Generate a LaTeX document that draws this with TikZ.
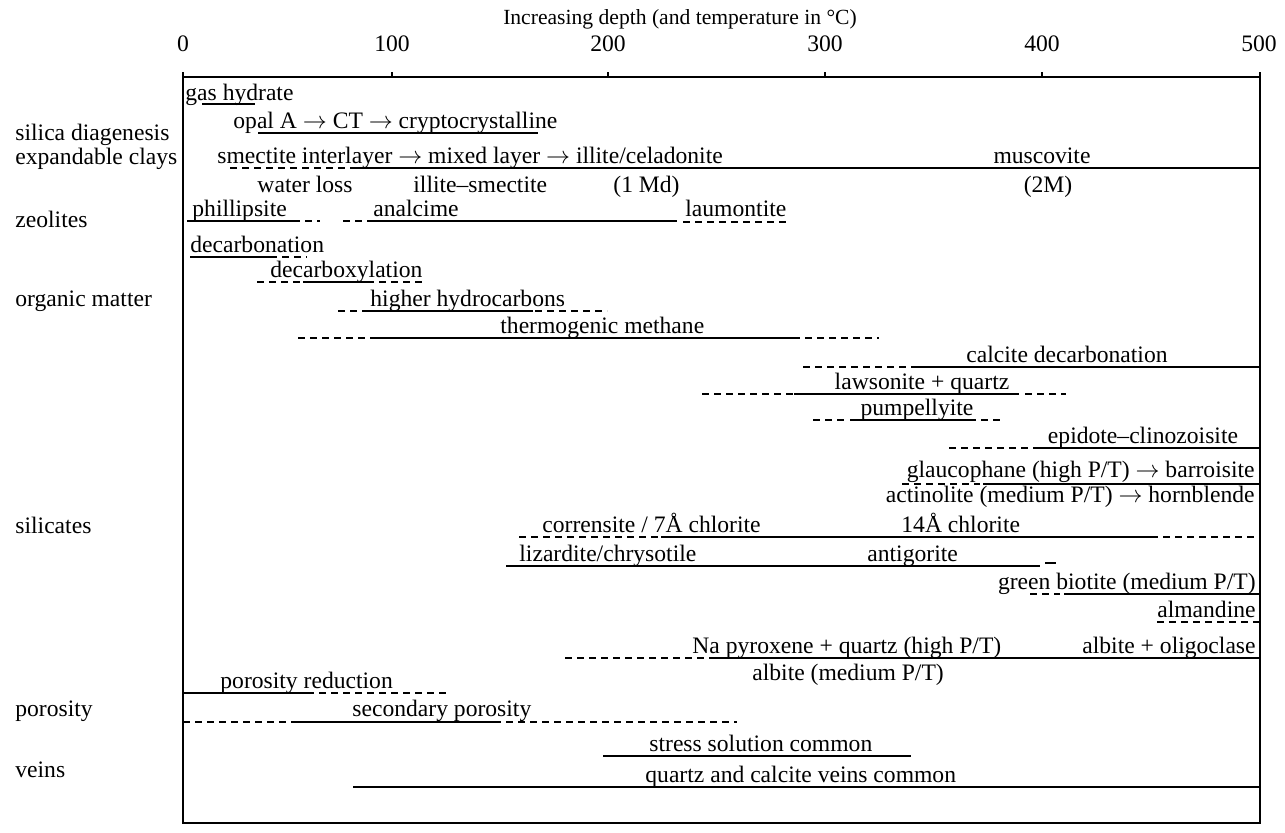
\documentclass[tikz,border=0pt]{standalone}
\usepackage{fontspec}
\setmainfont{Liberation Serif}
\begin{document}
\begin{tikzpicture}[x=0.5pt,y=-0.5pt,
  txt/.style={font=\fontsize{11.8}{14}\selectfont, inner sep=0pt, anchor=base west},
  txtc/.style={txt, anchor=base},
  txte/.style={txt, anchor=base east},
  sl/.style={line width=1.2pt},
  dl/.style={line width=1.2pt, dash pattern=on 3.5pt off 2.5pt},
  frame/.style={line width=1.2pt}]
\useasboundingbox (0,0) rectangle (1285,832);
\fill[white] (0,0) rectangle (1285,832);
% title and axis
\node[txtc, font=\fontsize{10.8}{13}\selectfont] (title) at (680,24) {Increasing depth (and temperature in \textdegree C)};
\node[txtc] (n0) at (183,51) {0};
\node[txtc] (n100) at (392,51) {100};
\node[txtc] (n200) at (608,51) {200};
\node[txtc] (n300) at (825,51) {300};
\node[txtc] (n400) at (1042,51) {400};
\node[txtc] (n500) at (1259,51) {500};
\draw[frame] (183,72) -- (183,823) -- (1260,823) -- (1260,72);
\draw[frame] (183,77) -- (1260,77);
\foreach \t in {392,608,825,1042} \draw[frame] (\t,77) -- (\t,72);
% left labels
\node[txt] (c1) at (15,140) {silica diagenesis};
\node[txt] (c2) at (15,164) {expandable clays};
\node[txt] (c3) at (15,227) {zeolites};
\node[txt] (c4) at (15,306) {organic matter};
\node[txt] (c5) at (15,533) {silicates};
\node[txt] (c6) at (15,716) {porosity};
\node[txt] (c7) at (15,777) {veins};
% texts
\node[txt] (t1) at (185,100) {gas hydrate};
\node[txt] (t2) at (233,128) {opal A $\rightarrow$ CT $\rightarrow$ cryptocrystalline};
\node[txt] (t3) at (217,163) {smectite interlayer $\rightarrow$ mixed layer $\rightarrow$ illite/celadonite};
\node[txtc] (t3b) at (1042,163) {muscovite};
\node[txtc] (t4a) at (305,192) {water loss};
\node[txt] (t4b) at (413,192) {illite--smectite};
\node[txt] (t4c) at (613,192) {(1 Md)};
\node[txtc] (t4d) at (1048,192) {(2M)};
\node[txt] (t5a) at (192,216) {phillipsite};
\node[txt] (t5b) at (373,216) {analcime};
\node[txt] (t5c) at (685,216) {laumontite};
\node[txt] (t6) at (190,252) {decarbonation};
\node[txt] (t7) at (270,277) {decarboxylation};
\node[txt] (t8) at (370,306) {higher hydrocarbons};
\node[txt] (t9) at (500,333) {thermogenic methane};
\node[txtc] (t10) at (1067,362) {calcite decarbonation};
\node[txtc] (t11) at (922,389) {lawsonite + quartz};
\node[txtc] (t12) at (917,415) {pumpellyite};
\node[txtc] (t13) at (1143,443) {epidote--clinozoisite};
\node[txte] (t14) at (1255,477) {glaucophane (high P/T) $\rightarrow$ barroisite};
\node[txte] (t15) at (1255,502) {actinolite (medium P/T) $\rightarrow$ hornblende};
\node[txt] (t16a) at (542,532) {corrensite / 7Å chlorite};
\node[txt] (t16b) at (901,532) {14Å chlorite};
\node[txt] (t17a) at (519,561) {lizardite/chrysotile};
\node[txt] (t17b) at (867,561) {antigorite};
\node[txte] (t18) at (1256,589) {green biotite (medium P/T)};
\node[txte] (t19) at (1256,617) {almandine};
\node[txt] (t20a) at (692,653) {Na pyroxene + quartz (high P/T)};
\node[txte] (t20b) at (1256,653) {albite + oligoclase};
\node[txt] (t21) at (752,680) {albite (medium P/T)};
\node[txt] (t22) at (220,688) {porosity reduction};
\node[txt] (t23) at (352,716) {secondary porosity};
\node[txt] (t24) at (649,751) {stress solution common};
\node[txt] (t25) at (645,782) {quartz and calcite veins common};
% range lines
\draw[sl] (202,104) -- (255,104);
\draw[sl] (258,133) -- (538,133);
\draw[dl] (230,168) -- (355,168); \draw[sl] (355,168) -- (1260,168);
\draw[sl] (187,221) -- (293,221); \draw[dl] (293,221) -- (320,221);
\draw[dl] (343,221) -- (368,221); \draw[sl] (368,221) -- (677,221);
\draw[dl] (683,222) -- (788,222);
\draw[sl] (190,257) -- (270,257); \draw[dl] (270,257) -- (307,257);
\draw[dl] (257,282) -- (303,282); \draw[sl] (303,282) -- (367,282); \draw[dl] (367,282) -- (423,282);
\draw[dl] (338,311) -- (367,311); \draw[sl] (367,311) -- (533,311); \draw[dl] (535,311) -- (607,311);
\draw[dl] (298,338) -- (370,338); \draw[sl] (370,338) -- (800,338); \draw[dl] (805,338) -- (879,338);
\draw[dl] (803,367) -- (912,367); \draw[sl] (912,367) -- (1260,367);
\draw[dl] (702,394) -- (794,394); \draw[sl] (794,394) -- (1019,394); \draw[dl] (1025,394) -- (1066,394);
\draw[dl] (813,420) -- (846,420); \draw[sl] (850,420) -- (969,420); \draw[dl] (969,420) -- (1002,420);
\draw[dl] (949,448) -- (1035,448); \draw[sl] (1035,448) -- (1260,448);
\draw[dl] (902,484) -- (980,484); \draw[sl] (983,484) -- (1260,484);
\draw[dl] (519,537) -- (661,537); \draw[sl] (661,537) -- (1151,537); \draw[dl] (1151,537) -- (1260,537);
\draw[sl] (506,566) -- (1040,566); \draw[sl] (1045,563) -- (1056,563);
\draw[dl] (1030,594) -- (1060,594); \draw[sl] (1064,594) -- (1260,594);
\draw[dl] (1157,622) -- (1260,622);
\draw[dl] (565,658) -- (715,658); \draw[sl] (715,658) -- (1260,658);
\draw[sl] (183,693) -- (307,693); \draw[dl] (307,693) -- (447,693);
\draw[dl] (183,722) -- (292,722); \draw[sl] (292,722) -- (494,722); \draw[dl] (494,722) -- (737,722);
\draw[sl] (603,756) -- (911,756);
\draw[sl] (353,787) -- (1260,787);
\end{tikzpicture}
\end{document}
